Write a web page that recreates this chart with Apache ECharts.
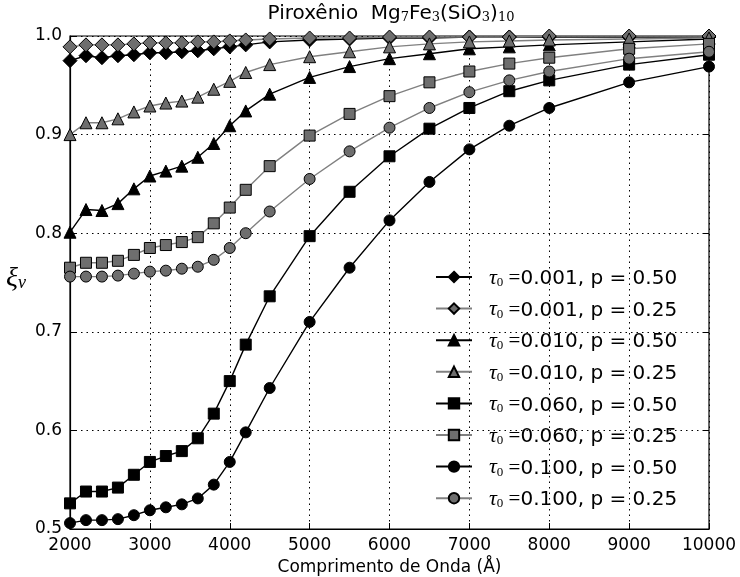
<!DOCTYPE html>
<html>
<head>
<meta charset="utf-8">
<script src="https://cdn.jsdelivr.net/npm/echarts@6/dist/echarts.min.js"></script>
<style>
html,body{margin:0;padding:0;background:#fff}
#chart{width:740px;height:577px}
</style>
</head>
<body>
<div id="chart"></div>
<script>
// comprimento de onda (Angstrom)
const wavelengths = [2000,2200,2400,2600,2800,3000,3200,3400,3600,3800,4000,4200,4500,5000,5500,6000,6500,7000,7500,8000,9000,10000];

const tau001p50 = [0.975,0.980,0.978,0.980,0.981,0.983,0.983,0.984,0.985,0.987,0.989,0.991,0.994,0.996,0.997,0.998,0.998,0.999,0.999,0.999,0.999,0.999];
const tau001p25 = [0.989,0.991,0.991,0.991,0.992,0.993,0.993,0.993,0.994,0.994,0.995,0.996,0.997,0.998,0.998,0.999,0.999,0.999,0.999,1.000,1.000,1.000];
const tau010p50 = [0.801,0.824,0.823,0.830,0.845,0.858,0.863,0.868,0.877,0.891,0.909,0.924,0.941,0.958,0.969,0.977,0.982,0.987,0.989,0.991,0.994,0.997];
const tau010p25 = [0.900,0.912,0.912,0.916,0.923,0.929,0.932,0.934,0.938,0.946,0.954,0.963,0.971,0.979,0.984,0.989,0.992,0.994,0.995,0.996,0.997,0.998];
const tau060p50 = [0.526,0.538,0.538,0.542,0.555,0.568,0.574,0.579,0.592,0.617,0.650,0.687,0.736,0.797,0.842,0.878,0.906,0.927,0.944,0.955,0.971,0.981];
const tau060p25 = [0.765,0.770,0.770,0.772,0.778,0.785,0.788,0.791,0.796,0.810,0.826,0.844,0.868,0.899,0.921,0.939,0.953,0.964,0.972,0.978,0.987,0.992];
const tau100p50 = [0.506,0.509,0.509,0.510,0.514,0.519,0.522,0.525,0.531,0.545,0.568,0.598,0.643,0.710,0.765,0.813,0.852,0.885,0.909,0.927,0.953,0.969];
const tau100p25 = [0.756,0.756,0.756,0.757,0.759,0.761,0.762,0.764,0.766,0.773,0.785,0.800,0.822,0.855,0.883,0.907,0.927,0.943,0.955,0.964,0.977,0.984];

const tauLabels = ['0.001','0.001','0.010','0.010','0.060','0.060','0.100','0.100'];
const pLabels = ['0.50','0.25','0.50','0.25','0.50','0.25','0.50','0.25'];
const allValues = [tau001p50,tau001p25,tau010p50,tau010p25,tau060p50,tau060p25,tau100p50,tau100p25];
const symbols = ['diamond','diamond','triangle','triangle','rect','rect','circle','circle'];
const symSizes = [14,14,12,12,11,11,11,11];

const BLACK = '#000000';
const GRAY_FILL = '#6e6e6e';
const GRAY_LINE = '#808080';

const myChart = echarts.init(document.getElementById('chart'), null, {renderer:'canvas'});

const series = allValues.map((vals, i) => {
  const gray = i % 2 === 1;
  return {
    name: 'τ0 =' + tauLabels[i] + ', p = ' + pLabels[i],
    type: 'line',
    data: wavelengths.map((w, j) => [w, vals[j]]),
    symbol: symbols[i],
    symbolSize: symSizes[i],
    showAllSymbol: true,
    lineStyle: {color: gray ? GRAY_LINE : BLACK, width: 1.4},
    itemStyle: {color: gray ? GRAY_FILL : BLACK, borderColor: BLACK, borderWidth: 1},
    emphasis: {disabled: true}
  };
});

const tickFont = {fontFamily: 'DejaVu Sans', fontSize: 17, color: '#000'};

const option = {
  animation: false,
  backgroundColor: '#fff',
  title: {
    text: '{a|Piroxênio  Mg}{b|7}{a|Fe}{b|3}{a|(SiO}{b|3}{a|)}{b|10}',
    left: 391,
    top: -6,
    padding: 0,
    textAlign: 'center',
    textStyle: {
      fontWeight: 'normal',
      rich: {
        a: {fontFamily: 'DejaVu Sans', fontSize: 20, fontWeight: 'normal', color: '#000', lineHeight: 30, verticalAlign: 'bottom'},
        b: {fontFamily: 'DejaVu Serif', fontSize: 13, fontWeight: 'normal', color: '#000', lineHeight: 8, verticalAlign: 'bottom'}
      }
    }
  },
  grid: {left: 70, right: 31, top: 36, bottom: 48, outerBoundsMode: 'none', show: true, borderColor: '#000', borderWidth: 1.2, backgroundColor: 'transparent'},
  legend: {
    orient: 'vertical',
    left: 430,
    top: 262,
    itemWidth: 36,
    itemHeight: 13,
    itemGap: 9.6,
    selectedMode: false,
    data: series.map(s => s.name),
    formatter: function (name) {
      const i = series.findIndex(s => s.name === name);
      return '{t|τ}{s|0}{e| =}{n|' + tauLabels[i] + ', p = ' + pLabels[i] + '}';
    },
    textStyle: {
      padding: [0, 0, 0, 12],
      rich: {
        t: {fontFamily: 'Liberation Serif', fontStyle: 'italic', fontSize: 22, color: '#000', lineHeight: 24, verticalAlign: 'bottom'},
        s: {fontFamily: 'Liberation Serif', fontSize: 13, color: '#000', lineHeight: 6, verticalAlign: 'bottom'},
        e: {fontFamily: 'Liberation Serif', fontSize: 21, color: '#000', lineHeight: 24, verticalAlign: 'bottom'},
        n: {fontFamily: 'DejaVu Sans', fontSize: 20, color: '#000', lineHeight: 24, verticalAlign: 'bottom'}
      }
    }
  },
  xAxis: [{
    type: 'value',
    min: 2000, max: 10000, interval: 1000,
    name: 'Comprimento de Onda (Å)',
    nameLocation: 'middle',
    nameGap: 29,
    nameTextStyle: {fontFamily: 'DejaVu Sans', fontSize: 17, color: '#000'},
    axisLine: {show: true, lineStyle: {color: '#000', width: 1.2}},
    axisTick: {show: true, inside: true, length: 6, lineStyle: {color: '#000'}},
    axisLabel: Object.assign({margin: 8, formatter: v => String(v)}, tickFont),
    splitLine: {show: true, lineStyle: {color: '#000', type: [1.5, 4], width: 1}}
  }, {
    type: 'value', position: 'top',
    min: 2000, max: 10000, interval: 1000,
    axisLine: {show: false},
    axisTick: {show: true, inside: true, length: 6, lineStyle: {color: '#000'}},
    axisLabel: {show: false},
    splitLine: {show: false}
  }],
  yAxis: [{
    type: 'value',
    min: 0.5, max: 1.0, interval: 0.1,
    name: '{x|ξ}{v|ν}',
    nameLocation: 'middle',
    nameGap: 44,
    nameRotate: 0,
    nameTextStyle: {
      padding: [0, 0, 10, 0],
      rich: {
        x: {fontFamily: 'Liberation Serif', fontStyle: 'italic', fontSize: 28, color: '#000', lineHeight: 30, verticalAlign: 'bottom'},
        v: {fontFamily: 'Liberation Serif', fontStyle: 'italic', fontSize: 18, color: '#000', lineHeight: 14, verticalAlign: 'bottom'}
      }
    },
    axisLine: {show: true, lineStyle: {color: '#000', width: 1.2}},
    axisTick: {show: true, inside: true, length: 6, lineStyle: {color: '#000'}},
    axisLabel: Object.assign({margin: 8, formatter: v => v.toFixed(1)}, tickFont),
    splitLine: {show: true, lineStyle: {color: '#000', type: [1.5, 4], width: 1}}
  }, {
    type: 'value', position: 'right',
    min: 0.5, max: 1.0, interval: 0.1,
    axisLine: {show: false},
    axisTick: {show: true, inside: true, length: 6, lineStyle: {color: '#000'}},
    axisLabel: {show: false},
    splitLine: {show: false}
  }],
  series: series
};

option && myChart.setOption(option);
</script>
</body>
</html>
